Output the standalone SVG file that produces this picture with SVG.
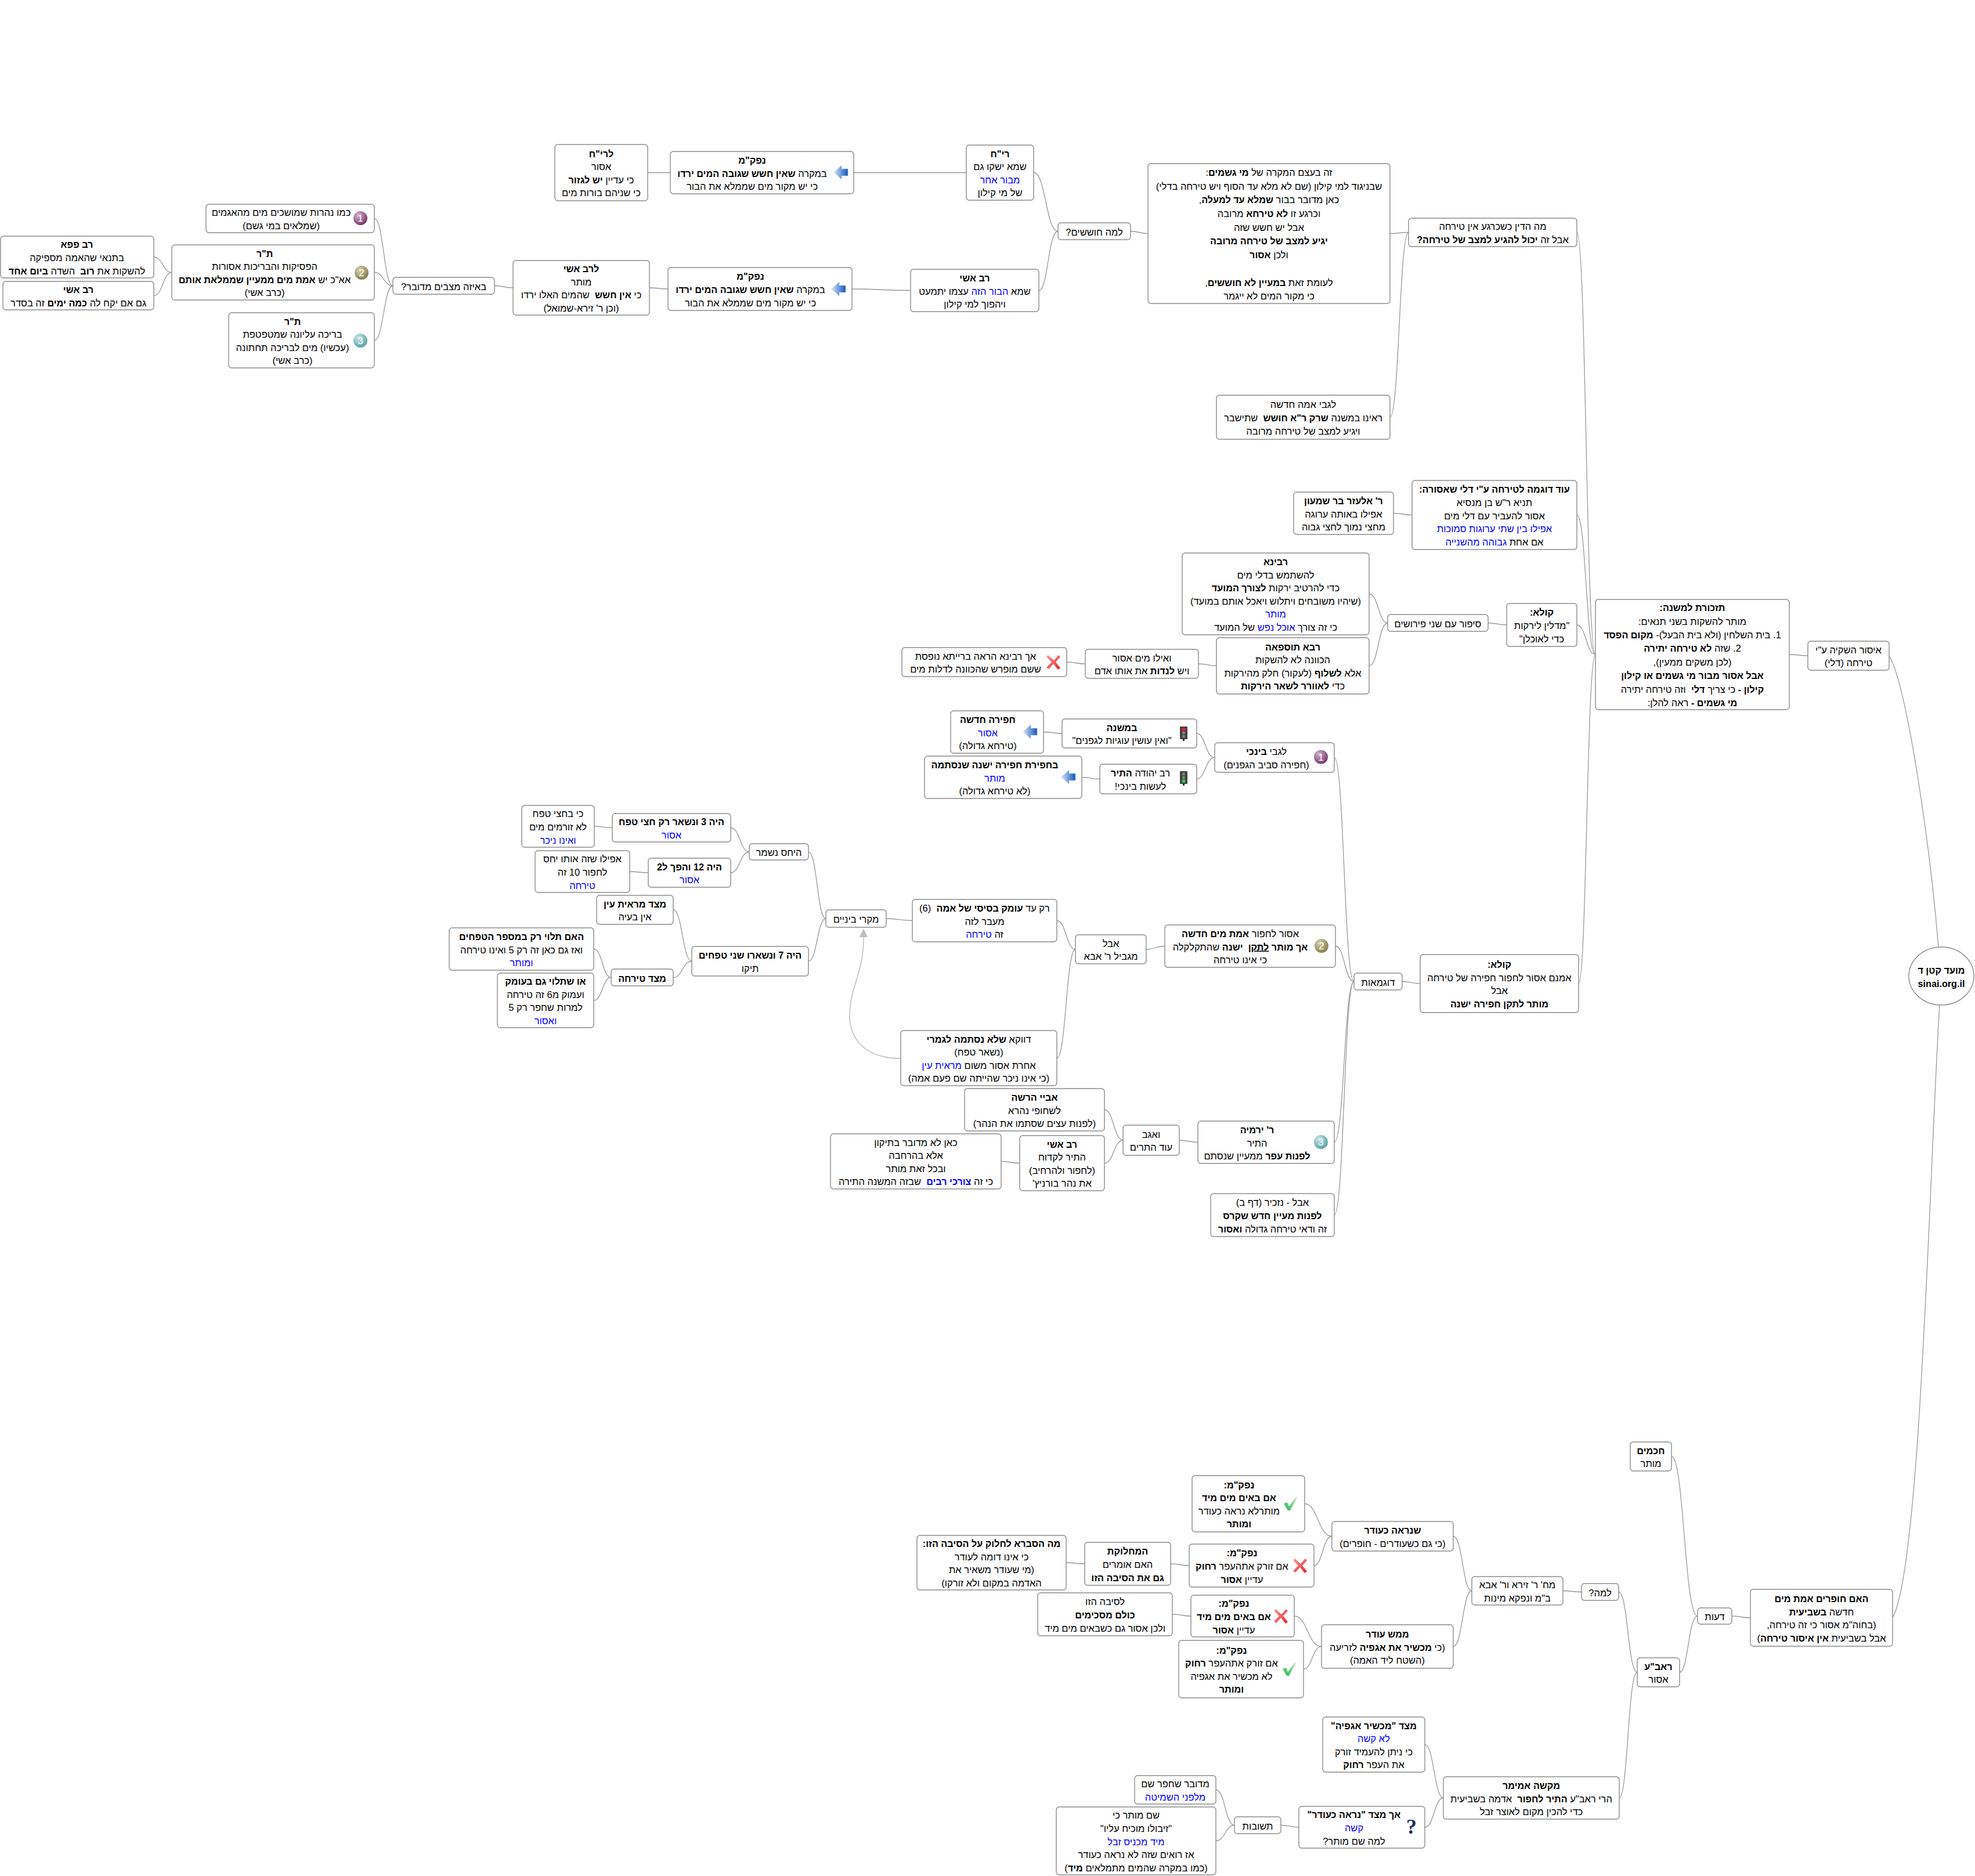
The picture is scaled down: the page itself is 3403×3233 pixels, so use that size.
<svg xmlns="http://www.w3.org/2000/svg" width="3403" height="3233" viewBox="0 0 3403 3233">
<style>
text{font-family:"Liberation Sans",Arial,sans-serif;font-size:16.5px;text-anchor:middle;direction:rtl;white-space:pre;fill:#000}
.b{font-weight:700;font-size:16.2px}
.u{fill:#00f}
.ul{text-decoration:underline}
rect.n{fill:#fff;stroke:#8c8c8c;stroke-width:1.4}
#connectors path{fill:none;stroke:#999;stroke-width:1.3}
#connectors path.rel{stroke:#bdbdbd;stroke-width:1.5}
text.d{font-size:17px;fill:#fff;direction:ltr}
text.q{font-family:"Liberation Serif",serif;font-size:36px;font-weight:700;fill:#1c2a66;direction:ltr}
</style>
<defs>
<radialGradient id="gP" cx=".35" cy=".3" r=".8"><stop offset="0" stop-color="#d6b3cf"/><stop offset="1" stop-color="#6a2a63"/></radialGradient>
<radialGradient id="gO" cx=".35" cy=".3" r=".8"><stop offset="0" stop-color="#d8d3ae"/><stop offset="1" stop-color="#7a7442"/></radialGradient>
<radialGradient id="gT" cx=".35" cy=".3" r=".8"><stop offset="0" stop-color="#c9e6e6"/><stop offset="1" stop-color="#4f9a9c"/></radialGradient>
<linearGradient id="gA" x1="0" y1="0" x2="1" y2="0"><stop offset="0" stop-color="#d4e2f6"/><stop offset="1" stop-color="#1557bb"/></linearGradient>
<linearGradient id="gX" x1="0" y1="0" x2="1" y2="1"><stop offset="0" stop-color="#f5a0a0"/><stop offset="1" stop-color="#ee1c25"/></linearGradient>
<linearGradient id="gC" x1="0" y1="1" x2="1" y2="0"><stop offset="0" stop-color="#22b14c"/><stop offset="1" stop-color="#c8efc8"/></linearGradient>
<marker id="tri" markerWidth="16" markerHeight="16" refX="1" refY="7" orient="auto" markerUnits="userSpaceOnUse"><polygon points="0,0 15,7 0,14" fill="#bdbdbd"/></marker>
<g id="arrowL"><polygon points="0,12 13,0 13,6 24,6 24,18 13,18 13,24" fill="url(#gA)" stroke="#a9c3ea" stroke-width=".6"/></g>
<g id="xmark"><path d="M3,0 L13,9 L21,0 L24,3 L16,12 L24,22 L20,25 L12,15 L4,24 L0,21 L9,12 L0,3 Z" fill="url(#gX)"/></g>
<g id="check"><path d="M0,11 L6,9 L9,16 L21,0 L23,1 L11,23 L7,23 Z" fill="url(#gC)"/></g>
<g id="lightR"><rect x="0" y="0" width="13" height="22" rx="1" fill="#444"/><rect x="5" y="22" width="3" height="3" fill="#333"/><circle cx="6.5" cy="5" r="3" fill="#f01c2c"/><circle cx="6.5" cy="11" r="2.4" fill="#888"/><circle cx="6.5" cy="17" r="2.4" fill="#888"/></g>
<g id="lightG"><rect x="0" y="0" width="13" height="22" rx="1" fill="#444"/><rect x="5" y="22" width="3" height="3" fill="#333"/><circle cx="6.5" cy="5" r="2.4" fill="#888"/><circle cx="6.5" cy="11" r="2.4" fill="#888"/><circle cx="6.5" cy="17" r="3" fill="#22d04c"/></g>
</defs>
<rect width="3403" height="3233" fill="#fff"/>
<g id="connectors">
<path d="M645 376.5C661 376.5 661 492.5 677 492.5"/>
<path d="M645 469.5C661 469.5 661 492.5 677 492.5"/>
<path d="M645 586.5C661 586.5 661 492.5 677 492.5"/>
<path d="M265 443C280.5 443 280.5 469.5 296 469.5"/>
<path d="M265 509.5C280.5 509.5 280.5 469.5 296 469.5"/>
<path d="M852 492.5C868 492.5 868 496 884 496"/>
<path d="M1119 496C1135 496 1135 498 1151 498"/>
<path d="M1468 498C1518 498 1518 500.5 1569 500.5"/>
<path d="M1790 500.5C1806 500.5 1806 398.5 1823 398.5"/>
<path d="M1781 297.5C1802 297.5 1802 398.5 1823 398.5"/>
<path d="M1116 297.5L1155 297.5"/>
<path d="M1471 297.5L1665 297.5"/>
<path d="M1948 398.5C1963 398.5 1963 402.5 1978 402.5"/>
<path d="M2395 402.5C2411 402.5 2411 400.5 2427 400.5"/>
<path d="M2395 719C2411 719 2411 400.5 2427 400.5"/>
<path d="M2717 400.5C2733 400.5 2733 1128 2749 1128"/>
<path d="M2717 887.5C2733 887.5 2733 1128 2749 1128"/>
<path d="M2717 1077C2733 1077 2733 1128 2749 1128"/>
<path d="M2720 1695C2734 1695 2734 1128 2749 1128"/>
<path d="M3083 1128C3099 1128 3099 1130 3115 1130"/>
<path d="M3255 1130C3285 1180 3325 1450 3340 1632"/>
<path d="M3261 2788C3310 2700 3325 2000 3342 1732"/>
<path d="M2401 884.5C2417 884.5 2417 887.5 2433 887.5"/>
<path d="M2564 1073.5C2580 1073.5 2580 1077 2596 1077"/>
<path d="M2359 1023.5C2375 1023.5 2375 1073.5 2391 1073.5"/>
<path d="M2359 1147.5C2375 1147.5 2375 1073.5 2391 1073.5"/>
<path d="M2065 1144C2080 1144 2080 1147.5 2096 1147.5"/>
<path d="M1838 1141C1854 1141 1854 1144 1870 1144"/>
<path d="M2416 1691.5C2431 1691.5 2431 1695 2447 1695"/>
<path d="M2299 1305.5C2316 1305.5 2316 1691.5 2333 1691.5"/>
<path d="M2301 1630.5C2317 1630.5 2317 1691.5 2333 1691.5"/>
<path d="M2299 1968.5C2316 1968.5 2316 1691.5 2333 1691.5"/>
<path d="M2299 2094C2316 2094 2316 1691.5 2333 1691.5"/>
<path d="M2062 1264C2077 1264 2077 1305.5 2093 1305.5"/>
<path d="M2062 1342.5C2077 1342.5 2077 1305.5 2093 1305.5"/>
<path d="M1798 1261.5C1814 1261.5 1814 1264 1830 1264"/>
<path d="M1864 1339.5C1879 1339.5 1879 1342.5 1895 1342.5"/>
<path d="M1975 1636C1991 1636 1991 1630.5 2007 1630.5"/>
<path d="M1821 1586.5C1837 1586.5 1837 1636 1853 1636"/>
<path d="M1821 1823.5C1837 1823.5 1837 1636 1853 1636"/>
<path d="M1527 1583C1549 1583 1549 1586.5 1572 1586.5"/>
<path d="M1393 1468C1408 1468 1408 1583 1423 1583"/>
<path d="M1393 1656.5C1408 1656.5 1408 1583 1423 1583"/>
<path d="M1259 1426.5C1275 1426.5 1275 1468 1291 1468"/>
<path d="M1259 1504C1275 1504 1275 1468 1291 1468"/>
<path d="M1024 1424C1039 1424 1039 1426.5 1055 1426.5"/>
<path d="M1085 1502C1101 1502 1101 1504 1117 1504"/>
<path d="M1160 1568C1176 1568 1176 1656.5 1192 1656.5"/>
<path d="M1160 1684.5C1176 1684.5 1176 1656.5 1192 1656.5"/>
<path d="M1023 1635.5C1038 1635.5 1038 1684.5 1053 1684.5"/>
<path d="M1023 1724C1038 1724 1038 1684.5 1053 1684.5"/>
<path d="M2032 1965C2048 1965 2048 1968.5 2064 1968.5"/>
<path d="M1903 1912.5C1919 1912.5 1919 1965 1935 1965"/>
<path d="M1903 2004.5C1919 2004.5 1919 1965 1935 1965"/>
<path d="M1725 2001.5C1741 2001.5 1741 2004.5 1757 2004.5"/>
<path d="M2984 2785C3000 2785 3000 2788 3016 2788"/>
<path d="M2880 2510C2902 2510 2902 2785 2925 2785"/>
<path d="M2894 2882C2909 2882 2909 2785 2925 2785"/>
<path d="M2789 2743.5C2805 2743.5 2805 2882 2821 2882"/>
<path d="M2790 3098.5C2805 3098.5 2805 2882 2821 2882"/>
<path d="M2693 2741.5C2709 2741.5 2709 2743.5 2725 2743.5"/>
<path d="M2504 2647.5C2520 2647.5 2520 2741.5 2536 2741.5"/>
<path d="M2504 2837.5C2520 2837.5 2520 2741.5 2536 2741.5"/>
<path d="M2248 2591.5C2271 2591.5 2271 2647.5 2295 2647.5"/>
<path d="M2264 2698C2279 2698 2279 2647.5 2295 2647.5"/>
<path d="M2017 2695C2033 2695 2033 2698 2049 2698"/>
<path d="M1837 2693C1853 2693 1853 2695 1869 2695"/>
<path d="M2230 2785C2253 2785 2253 2837.5 2277 2837.5"/>
<path d="M2246 2876.5C2261 2876.5 2261 2837.5 2277 2837.5"/>
<path d="M2020 2782C2036 2782 2036 2785 2052 2785"/>
<path d="M2455 3006.5C2471 3006.5 2471 3098.5 2487 3098.5"/>
<path d="M2455 3149C2471 3149 2471 3098.5 2487 3098.5"/>
<path d="M2207 3145.5C2222 3145.5 2222 3149 2238 3149"/>
<path d="M2095 3084.5C2111 3084.5 2111 3145.5 2127 3145.5"/>
<path d="M2095 3172.5C2111 3172.5 2111 3145.5 2127 3145.5"/>
<path class="rel" d="M1552 1824C1490 1824 1464 1790 1464 1750C1464 1700 1488 1680 1488 1614" marker-end="url(#tri)"/>
</g>
<g id="root"><ellipse cx="3345" cy="1682" rx="56" ry="50" fill="#fff" stroke="#8c8c8c" stroke-width="1.4"/><text class="b" y="1678"><tspan x="3345">מועד קטן ד</tspan><tspan x="3345" dy="22.6" style="direction:ltr">sinai.org.il</tspan></text></g>
<g id="n-issur"><rect class="n" x="3115" y="1105" width="140" height="50" rx="5"/><text y="1125.7"><tspan x="3185">איסור השקיה ע"י</tspan><tspan x="3185" dy="22.6">טירחה (דלי)</tspan></text></g>
<g id="n-tizkoret"><rect class="n" x="2749" y="1033" width="334" height="190" rx="5"/><text y="1053.1"><tspan x="2916" class="b">תזכורת למשנה:</tspan><tspan x="2916" dy="23.4">מותר להשקות בשני תנאים:</tspan><tspan x="2916" dy="23.4">1. בית השלחין (ולא בית הבעל)- <tspan class="b">מקום הפסד</tspan></tspan><tspan x="2916" dy="23.4">2. שזה <tspan class="b">לא טירחה יתירה</tspan></tspan><tspan x="2916" dy="23.4">(לכן משקים ממעין),</tspan><tspan x="2916" dy="23.4" class="b">אבל אסור מבור מי גשמים או קילון</tspan><tspan x="2916" dy="23.4"><tspan class="b">קילון -</tspan> כי צריך <tspan class="b">דלי</tspan>  וזה טירחה יתירה</tspan><tspan x="2916" dy="23.4"><tspan class="b">מי גשמים -</tspan> ראה להלן:</tspan></text></g>
<g id="n-ma-hadin"><rect class="n" x="2427" y="376" width="290" height="49" rx="5"/><text y="396.2"><tspan x="2572">מה הדין כשכרגע אין טירחה</tspan><tspan x="2572" dy="22.6">אבל זה <tspan class="b">יכול להגיע למצב של טירחה?</tspan></tspan></text></g>
<g id="n-ze-beetzem"><rect class="n" x="1978" y="282" width="417" height="241" rx="5"/><text y="302.9"><tspan x="2186.5">זה בעצם המקרה של <tspan class="b">מי גשמים</tspan>:</tspan><tspan x="2186.5" dy="23.7">שבניגוד למי קילון (שם לא מלא עד הסוף ויש טירחה בדלי)</tspan><tspan x="2186.5" dy="23.7">כאן מדובר בבור <tspan class="b">שמלא עד למעלה</tspan>,</tspan><tspan x="2186.5" dy="23.7">וכרגע זו <tspan class="b">לא טירחא</tspan> מרובה</tspan><tspan x="2186.5" dy="23.7">אבל יש חשש שזה</tspan><tspan x="2186.5" dy="23.7" class="b">יגיע למצב של טירחה מרובה</tspan><tspan x="2186.5" dy="23.7">ולכן <tspan class="b">אסור</tspan></tspan><tspan x="2186.5" dy="47.4">לעומת זאת <tspan class="b">במעיין לא חוששים</tspan>,</tspan><tspan x="2186.5" dy="23.7">כי מקור המים לא ייגמר</tspan></text></g>
<g id="n-legabei-ama"><rect class="n" x="2096" y="681" width="299" height="76" rx="5"/><text y="703.4"><tspan x="2245.5">לגבי אמה חדשה</tspan><tspan x="2245.5" dy="22.6">ראינו במשנה <tspan class="b">שרק ר"א חושש</tspan>  שתישבר</tspan><tspan x="2245.5" dy="22.6">ויגיע למצב של טירחה מרובה</tspan></text></g>
<g id="n-lama-choshshim"><rect class="n" x="1823" y="384" width="125" height="29" rx="5"/><text x="1885.5" y="405.5">למה חוששים?</text></g>
<g id="n-rich"><rect class="n" x="1665" y="250" width="116" height="95" rx="5"/><text y="270.6"><tspan x="1723" class="b">רי"ח</tspan><tspan x="1723" dy="22.6">שמא ישקו גם</tspan><tspan x="1723" dy="22.6" class="u">מבור אחר</tspan><tspan x="1723" dy="22.6">של מי קילון</tspan></text></g>
<g id="n-nafkam1"><rect class="n" x="1155" y="261" width="316" height="73" rx="5"/><use href="#arrowL" x="1437" y="285"/><text y="281.9"><tspan x="1296" class="b">נפק"מ</tspan><tspan x="1296" dy="22.6">במקרה <tspan class="b">שאין חשש שגובה המים ירדו</tspan></tspan><tspan x="1296" dy="22.6">כי יש מקור מים שממלא את הבור</tspan></text></g>
<g id="n-lerich"><rect class="n" x="956" y="249" width="160" height="97" rx="5"/><text y="270.6"><tspan x="1036" class="b">לרי"ח</tspan><tspan x="1036" dy="22.6">אסור</tspan><tspan x="1036" dy="22.6">כי עדיין <tspan class="b">יש לגזור</tspan></tspan><tspan x="1036" dy="22.6">כי שניהם בורות מים</tspan></text></g>
<g id="n-rav-ashi1"><rect class="n" x="1569" y="464" width="221" height="73" rx="5"/><text y="484.9"><tspan x="1679.5" class="b">רב אשי</tspan><tspan x="1679.5" dy="22.6">שמא <tspan class="u">הבור הזה</tspan> עצמו יתמעט</tspan><tspan x="1679.5" dy="22.6">ויהפוך למי קילון</tspan></text></g>
<g id="n-nafkam2"><rect class="n" x="1151" y="461" width="317" height="74" rx="5"/><use href="#arrowL" x="1433" y="486"/><text y="482.4"><tspan x="1293" class="b">נפק"מ</tspan><tspan x="1293" dy="22.6">במקרה <tspan class="b">שאין חשש שגובה המים ירדו</tspan></tspan><tspan x="1293" dy="22.6">כי יש מקור מים שממלא את הבור</tspan></text></g>
<g id="n-lerav-ashi"><rect class="n" x="884" y="449" width="235" height="94" rx="5"/><text y="469.1"><tspan x="1001.5" class="b">לרב אשי</tspan><tspan x="1001.5" dy="22.6">מותר</tspan><tspan x="1001.5" dy="22.6">כי <tspan class="b">אין חשש</tspan>  שהמים האלו ירדו</tspan><tspan x="1001.5" dy="22.6">(וכן ר' זירא-שמואל)</tspan></text></g>
<g id="n-beeize"><rect class="n" x="677" y="478" width="175" height="29" rx="5"/><text x="764.5" y="499.5">באיזה מצבים מדובר?</text></g>
<g id="n-a1"><rect class="n" x="355" y="352" width="290" height="49" rx="5"/><circle cx="621" cy="376" r="12" fill="url(#gP)"/><text class="d" x="621" y="382">1</text><text y="372.2"><tspan x="484.5">כמו נהרות שמושכים מים מהאגמים</tspan><tspan x="484.5" dy="22.6">(שמלאים במי גשם)</tspan></text></g>
<g id="n-a2"><rect class="n" x="296" y="422" width="349" height="95" rx="5"/><circle cx="623" cy="470" r="12" fill="url(#gO)"/><text class="d" x="623" y="476">2</text><text y="442.6"><tspan x="456" class="b">ת"ר</tspan><tspan x="456" dy="22.6">הפסיקות והבריכות אסורות</tspan><tspan x="456" dy="22.6">אא"כ יש <tspan class="b">אמת מים ממעיין שממלאת אותם</tspan></tspan><tspan x="456" dy="22.6">(כרב אשי)</tspan></text></g>
<g id="n-a3"><rect class="n" x="394" y="539" width="251" height="95" rx="5"/><circle cx="621" cy="587" r="12" fill="url(#gT)"/><text class="d" x="621" y="593">3</text><text y="559.6"><tspan x="504" class="b">ת"ר</tspan><tspan x="504" dy="22.6">בריכה עליונה שמטפטפת</tspan><tspan x="504" dy="22.6">(עכשיו) מים לבריכה תחתונה</tspan><tspan x="504" dy="22.6">(כרב אשי)</tspan></text></g>
<g id="n-papa"><rect class="n" x="1" y="407" width="264" height="72" rx="5"/><text y="427.4"><tspan x="132.5" class="b">רב פפא</tspan><tspan x="132.5" dy="22.6">בתנאי שהאמה מספיקה</tspan><tspan x="132.5" dy="22.6">להשקות את <tspan class="b">רוב</tspan>  השדה <tspan class="b">ביום אחד</tspan></tspan></text></g>
<g id="n-ashi2"><rect class="n" x="5" y="485" width="260" height="49" rx="5"/><text y="505.2"><tspan x="135" class="b">רב אשי</tspan><tspan x="135" dy="22.6">גם אם יקח לה <tspan class="b">כמה ימים</tspan> זה בסדר</tspan></text></g>
<g id="n-od"><rect class="n" x="2433" y="828" width="284" height="119" rx="5"/><text y="849.3"><tspan x="2575" class="b">עוד דוגמה לטירחה ע"י דלי שאסורה:</tspan><tspan x="2575" dy="22.6">תניא ר"ש בן מנסיא</tspan><tspan x="2575" dy="22.6">אסור להעביר עם דלי מים</tspan><tspan x="2575" dy="22.6" class="u">אפילו בין שתי ערוגות סמוכות</tspan><tspan x="2575" dy="22.6">אם אחת <tspan class="u">גבוהה מהשנייה</tspan></tspan></text></g>
<g id="n-elazar"><rect class="n" x="2229" y="848" width="172" height="73" rx="5"/><text y="868.9"><tspan x="2315" class="b">ר' אלעזר בר שמעון</tspan><tspan x="2315" dy="22.6">אפילו באותה ערוגה</tspan><tspan x="2315" dy="22.6">מחצי נמוך לחצי גבוה</tspan></text></g>
<g id="n-kula1"><rect class="n" x="2596" y="1040" width="121" height="74" rx="5"/><text y="1061.4"><tspan x="2656.5" class="b">קולא:</tspan><tspan x="2656.5" dy="22.6">"מדלין לירקות</tspan><tspan x="2656.5" dy="22.6">כדי לאוכלן"</tspan></text></g>
<g id="n-sipur"><rect class="n" x="2391" y="1059" width="173" height="29" rx="5"/><text x="2477.5" y="1080.5">סיפור עם שני פירושים</text></g>
<g id="n-ravina"><rect class="n" x="2037" y="953" width="322" height="141" rx="5"/><text y="974"><tspan x="2198" class="b">רבינא</tspan><tspan x="2198" dy="22.6">להשתמש בדלי מים</tspan><tspan x="2198" dy="22.6">כדי להרטיב ירקות <tspan class="b">לצורך המועד</tspan></tspan><tspan x="2198" dy="22.6">(שיהיו משובחים ויתלוש ויאכל אותם במועד)</tspan><tspan x="2198" dy="22.6" class="u">מותר</tspan><tspan x="2198" dy="22.6">כי זה צורך <tspan class="u">אוכל נפש</tspan> של המועד</tspan></text></g>
<g id="n-rava"><rect class="n" x="2096" y="1099" width="263" height="97" rx="5"/><text y="1120.6"><tspan x="2227.5" class="b">רבא תוספאה</tspan><tspan x="2227.5" dy="22.6">הכוונה לא להשקות</tspan><tspan x="2227.5" dy="22.6">אלא <tspan class="b">לשלוף</tspan> (לעקור) חלק מהירקות</tspan><tspan x="2227.5" dy="22.6">כדי <tspan class="b">לאוורר לשאר הירקות</tspan></tspan></text></g>
<g id="n-veilu"><rect class="n" x="1870" y="1119" width="195" height="50" rx="5"/><text y="1139.7"><tspan x="1967.5">ואילו מים אסור</tspan><tspan x="1967.5" dy="22.6">ויש <tspan class="b">לנדות</tspan> את אותו אדם</tspan></text></g>
<g id="n-ach-ravina"><rect class="n" x="1554" y="1116" width="284" height="50" rx="5"/><use href="#xmark" x="1803" y="1129"/><text y="1136.7"><tspan x="1681">אך רבינא הראה ברייתא נופסת</tspan><tspan x="1681" dy="22.6">ששם מופרש שהכוונה לדלות מים</tspan></text></g>
<g id="n-binchi"><rect class="n" x="2093" y="1280" width="206" height="51" rx="5"/><circle cx="2276" cy="1304.5" r="12" fill="url(#gP)"/><text class="d" x="2276" y="1310.5">1</text><text y="1301.2"><tspan x="2182">לגבי <tspan class="b">בינכי</tspan></tspan><tspan x="2182" dy="22.6">(חפירה סביב הגפנים)</tspan></text></g>
<g id="n-mishna"><rect class="n" x="1830" y="1239" width="232" height="50" rx="5"/><use href="#lightR" x="2033" y="1252"/><text y="1259.7"><tspan x="1933" class="b">במשנה</tspan><tspan x="1933" dy="22.6">"ואין עושין עוגיות לגפנים"</tspan></text></g>
<g id="n-chafira-chadasha"><rect class="n" x="1638" y="1225" width="160" height="73" rx="5"/><use href="#arrowL" x="1763" y="1249"/><text y="1245.9"><tspan x="1702" class="b">חפירה חדשה</tspan><tspan x="1702" dy="22.6" class="u">אסור</tspan><tspan x="1702" dy="22.6">(טירחא גדולה)</tspan></text></g>
<g id="n-rav-yehuda"><rect class="n" x="1895" y="1317" width="167" height="51" rx="5"/><use href="#lightG" x="2033" y="1329"/><text y="1338.2"><tspan x="1965">רב יהודה <tspan class="b">התיר</tspan></tspan><tspan x="1965" dy="22.6">לעשות בינכי!</tspan></text></g>
<g id="n-bachafirat"><rect class="n" x="1593" y="1303" width="271" height="73" rx="5"/><use href="#arrowL" x="1829" y="1327"/><text y="1323.9"><tspan x="1714" class="b">בחפירת חפירה ישנה שנסתמה</tspan><tspan x="1714" dy="22.6" class="u">מותר</tspan><tspan x="1714" dy="22.6">(לא טירחא גדולה)</tspan></text></g>
<g id="n-kula2"><rect class="n" x="2447" y="1645" width="273" height="100" rx="5"/><text y="1668.1"><tspan x="2583.5" class="b">קולא:</tspan><tspan x="2583.5" dy="22.6">אמנם אסור לחפור חפירה של טירחה</tspan><tspan x="2583.5" dy="22.6">אבל</tspan><tspan x="2583.5" dy="22.6" class="b">מותר לתקן חפירה ישנה</tspan></text></g>
<g id="n-dugmaot"><rect class="n" x="2333" y="1677" width="83" height="29" rx="5"/><text x="2374.5" y="1698.5">דוגמאות</text></g>
<g id="n-asur-lachpor"><rect class="n" x="2007" y="1594" width="294" height="73" rx="5"/><circle cx="2277" cy="1630" r="12" fill="url(#gO)"/><text class="d" x="2277" y="1636">2</text><text y="1614.9"><tspan x="2137">אסור לחפור <tspan class="b">אמת מים חדשה</tspan></tspan><tspan x="2137" dy="22.6"><tspan class="b">אך מותר <tspan class="ul">לתקן</tspan>  ישנה</tspan> שהתקלקלה</tspan><tspan x="2137" dy="22.6">כי אינו טירחה</tspan></text></g>
<g id="n-aval-magbil"><rect class="n" x="1853" y="1611" width="122" height="50" rx="5"/><text y="1631.7"><tspan x="1914">אבל</tspan><tspan x="1914" dy="22.6">מגביל ר' אבא</tspan></text></g>
<g id="n-rak-ad"><rect class="n" x="1572" y="1550" width="249" height="73" rx="5"/><text y="1570.9"><tspan x="1696.5">רק עד <tspan class="b">עומק בסיסי של אמה</tspan>  (6)</tspan><tspan x="1696.5" dy="22.6">מעבר לזה</tspan><tspan x="1696.5" dy="22.6">זה <tspan class="u">טירחה</tspan></tspan></text></g>
<g id="n-davka"><rect class="n" x="1552" y="1776" width="269" height="95" rx="5"/><text y="1796.6"><tspan x="1686.5">דווקא <tspan class="b">שלא נסתמה לגמרי</tspan></tspan><tspan x="1686.5" dy="22.6">(נשאר טפח)</tspan><tspan x="1686.5" dy="22.6">אחרת אסור משום <tspan class="u">מראית עין</tspan></tspan><tspan x="1686.5" dy="22.6">(כי אינו ניכר שהייתה שם פעם אמה)</tspan></text></g>
<g id="n-mikrei"><rect class="n" x="1423" y="1568" width="104" height="30" rx="5"/><text x="1475" y="1590">מקרי ביניים</text></g>
<g id="n-yachas"><rect class="n" x="1291" y="1454" width="102" height="28" rx="5"/><text x="1342" y="1475">היחס נשמר</text></g>
<g id="n-haya3"><rect class="n" x="1055" y="1402" width="204" height="49" rx="5"/><text y="1422.2"><tspan x="1157" class="b">היה 3 ונשאר רק חצי טפח</tspan><tspan x="1157" dy="22.6" class="u">אסור</tspan></text></g>
<g id="n-ki-bachatzi"><rect class="n" x="899" y="1388" width="125" height="72" rx="5"/><text y="1408.4"><tspan x="961.5">כי בחצי טפח</tspan><tspan x="961.5" dy="22.6">לא זורמים מים</tspan><tspan x="961.5" dy="22.6" class="u">ואינו ניכר</tspan></text></g>
<g id="n-haya12"><rect class="n" x="1117" y="1479" width="142" height="50" rx="5"/><text y="1499.7"><tspan x="1188" class="b">היה 12 והפך ל2</tspan><tspan x="1188" dy="22.6" class="u">אסור</tspan></text></g>
<g id="n-afilu"><rect class="n" x="922" y="1466" width="163" height="72" rx="5"/><text y="1486.4"><tspan x="1003.5">אפילו שזה אותו יחס</tspan><tspan x="1003.5" dy="22.6">לחפור 10 זה</tspan><tspan x="1003.5" dy="22.6" class="u">טירחה</tspan></text></g>
<g id="n-haya7"><rect class="n" x="1192" y="1631" width="201" height="51" rx="5"/><text y="1652.2"><tspan x="1292.5" class="b">היה 7 ונשארו שני טפחים</tspan><tspan x="1292.5" dy="22.6">תיקו</tspan></text></g>
<g id="n-marit"><rect class="n" x="1028" y="1543" width="132" height="50" rx="5"/><text y="1563.7"><tspan x="1094" class="b">מצד מראית עין</tspan><tspan x="1094" dy="22.6">אין בעיה</tspan></text></g>
<g id="n-tircha"><rect class="n" x="1053" y="1670" width="107" height="29" rx="5"/><text class="b" x="1106.5" y="1691.5">מצד טירחה</text></g>
<g id="n-talui"><rect class="n" x="774" y="1599" width="249" height="73" rx="5"/><text y="1619.9"><tspan x="898.5" class="b">האם תלוי רק במספר הטפחים</tspan><tspan x="898.5" dy="22.6">ואז גם כאן זה רק 5 ואינו טירחה</tspan><tspan x="898.5" dy="22.6" class="u">ומותר</tspan></text></g>
<g id="n-o-shetalui"><rect class="n" x="857" y="1677" width="166" height="94" rx="5"/><text y="1697.1"><tspan x="940" class="b">או שתלוי גם בעומק</tspan><tspan x="940" dy="22.6">ועמוק מ6 זה טירחה</tspan><tspan x="940" dy="22.6">למרות שחפר רק 5</tspan><tspan x="940" dy="22.6" class="u">ואסור</tspan></text></g>
<g id="n-yirmiya"><rect class="n" x="2064" y="1932" width="235" height="73" rx="5"/><circle cx="2276" cy="1968" r="12" fill="url(#gT)"/><text class="d" x="2276" y="1974">3</text><text y="1952.9"><tspan x="2166" class="b">ר' ירמיה</tspan><tspan x="2166" dy="22.6">התיר</tspan><tspan x="2166" dy="22.6"><tspan class="b">לפנות עפר</tspan> ממעיין שנסתם</tspan></text></g>
<g id="n-veagav"><rect class="n" x="1935" y="1939" width="97" height="52" rx="5"/><text y="1960.7"><tspan x="1983.5">ואגב</tspan><tspan x="1983.5" dy="22.6">עוד התרים</tspan></text></g>
<g id="n-abaye"><rect class="n" x="1662" y="1876" width="241" height="73" rx="5"/><text y="1896.9"><tspan x="1782.5" class="b">אביי הרשה</tspan><tspan x="1782.5" dy="22.6">לשחופי נהרא</tspan><tspan x="1782.5" dy="22.6">(לפנות עצים שסתמו את הנהר)</tspan></text></g>
<g id="n-ashi3"><rect class="n" x="1757" y="1957" width="146" height="95" rx="5"/><text y="1977.6"><tspan x="1830" class="b">רב אשי</tspan><tspan x="1830" dy="22.6">התיר לקדוח</tspan><tspan x="1830" dy="22.6">(לחפור ולהרחיב)</tspan><tspan x="1830" dy="22.6">את נהר בורניץ'</tspan></text></g>
<g id="n-kan-lo"><rect class="n" x="1431" y="1954" width="294" height="95" rx="5"/><text y="1974.6"><tspan x="1578">כאן לא מדובר בתיקון</tspan><tspan x="1578" dy="22.6">אלא בהרחבה</tspan><tspan x="1578" dy="22.6">ובכל זאת מותר</tspan><tspan x="1578" dy="22.6">כי זה <tspan class="u b">צורכי רבים</tspan>  שבזה המשנה התירה</tspan></text></g>
<g id="n-nazkir"><rect class="n" x="2086" y="2057" width="213" height="74" rx="5"/><text y="2078.4"><tspan x="2192.5">אבל - נזכיר (דף ב)</tspan><tspan x="2192.5" dy="22.6" class="b">לפנות מעיין חדש שקרס</tspan><tspan x="2192.5" dy="22.6">זה ודאי טירחה גדולה <tspan class="b">ואסור</tspan></tspan></text></g>
<g id="n-chofrim"><rect class="n" x="3016" y="2739" width="245" height="98" rx="5"/><text y="2761.1"><tspan x="3138.5" class="b">האם חופרים אמת מים</tspan><tspan x="3138.5" dy="22.6">חדשה <tspan class="b">בשביעית</tspan></tspan><tspan x="3138.5" dy="22.6">(בחוה"מ אסור כי זה טירחה,</tspan><tspan x="3138.5" dy="22.6">אבל בשביעית <tspan class="b">אין איסור טירחה</tspan>)</tspan></text></g>
<g id="n-deot"><rect class="n" x="2925" y="2771" width="59" height="28" rx="5"/><text x="2954.5" y="2792">דעות</text></g>
<g id="n-chachamim"><rect class="n" x="2809" y="2485" width="71" height="50" rx="5"/><text y="2505.7"><tspan x="2844.5" class="b">חכמים</tspan><tspan x="2844.5" dy="22.6">מותר</tspan></text></g>
<g id="n-raava"><rect class="n" x="2821" y="2857" width="73" height="50" rx="5"/><text y="2877.7"><tspan x="2857.5" class="b">ראב"ע</tspan><tspan x="2857.5" dy="22.6">אסור</tspan></text></g>
<g id="n-lama"><rect class="n" x="2725" y="2729" width="64" height="29" rx="5"/><text x="2757" y="2750.5">למה?</text></g>
<g id="n-machloket"><rect class="n" x="2536" y="2717" width="157" height="49" rx="5"/><text y="2737.2"><tspan x="2614.5">מח' ר' זירא ור' אבא</tspan><tspan x="2614.5" dy="22.6">ב"מ ונפקא מינות</tspan></text></g>
<g id="n-shenire"><rect class="n" x="2295" y="2622" width="209" height="51" rx="5"/><text y="2643.2"><tspan x="2399.5" class="b">שנראה כעודר</tspan><tspan x="2399.5" dy="22.6">(כי גם כשעודרים - חופרים)</tspan></text></g>
<g id="n-mamash"><rect class="n" x="2277" y="2800" width="227" height="75" rx="5"/><text y="2821.9"><tspan x="2390.5" class="b">ממש עודר</tspan><tspan x="2390.5" dy="22.6">(כי <tspan class="b">מכשיר את אגפיה</tspan> לזריעה</tspan><tspan x="2390.5" dy="22.6">(השטח ליד האמה)</tspan></text></g>
<g id="n-nf1"><rect class="n" x="2054" y="2543" width="194" height="97" rx="5"/><use href="#check" x="2212" y="2580"/><text y="2564.6"><tspan x="2135" class="b">נפק"מ:</tspan><tspan x="2135" dy="22.6" class="b">אם באים מים מיד</tspan><tspan x="2135" dy="22.6">מותרלא נראה כעודר</tspan><tspan x="2135" dy="22.6" class="b">ומותר</tspan></text></g>
<g id="n-nf2"><rect class="n" x="2049" y="2661" width="215" height="74" rx="5"/><use href="#xmark" x="2228" y="2686"/><text y="2682.4"><tspan x="2140" class="b">נפק"מ:</tspan><tspan x="2140" dy="22.6">אם זורק אתהעפר <tspan class="b">רחוק</tspan></tspan><tspan x="2140" dy="22.6">עדיין <tspan class="b">אסור</tspan></tspan></text></g>
<g id="n-hamachloket"><rect class="n" x="1869" y="2658" width="148" height="74" rx="5"/><text y="2679.4"><tspan x="1943" class="b">המחלוקת</tspan><tspan x="1943" dy="22.6">האם אומרים</tspan><tspan x="1943" dy="22.6" class="b">גם את הסיבה הזו</tspan></text></g>
<g id="n-sevara"><rect class="n" x="1580" y="2646" width="257" height="94" rx="5"/><text y="2666.1"><tspan x="1708.5" class="b">מה הסברא לחלוק על הסיבה הזו:</tspan><tspan x="1708.5" dy="22.6">כי אינו דומה לעודר</tspan><tspan x="1708.5" dy="22.6">(מי שעודר משאיר את</tspan><tspan x="1708.5" dy="22.6">האדמה במקום ולא זורקו)</tspan></text></g>
<g id="n-nf3"><rect class="n" x="2052" y="2749" width="178" height="72" rx="5"/><use href="#xmark" x="2195" y="2773"/><text y="2769.4"><tspan x="2126" class="b">נפק"מ:</tspan><tspan x="2126" dy="22.6" class="b">אם באים מים מיד</tspan><tspan x="2126" dy="22.6">עדיין <tspan class="b">אסור</tspan></tspan></text></g>
<g id="n-lesiba"><rect class="n" x="1788" y="2745" width="232" height="74" rx="5"/><text y="2766.4"><tspan x="1904">לסיבה הזו</tspan><tspan x="1904" dy="22.6" class="b">כולם מסכימים</tspan><tspan x="1904" dy="22.6">ולכן אסור גם כשבאים מים מיד</tspan></text></g>
<g id="n-nf4"><rect class="n" x="2031" y="2827" width="215" height="99" rx="5"/><use href="#check" x="2210" y="2865"/><text y="2849.6"><tspan x="2122" class="b">נפק"מ:</tspan><tspan x="2122" dy="22.6">אם זורק אתהעפר <tspan class="b">רחוק</tspan></tspan><tspan x="2122" dy="22.6">לא מכשיר את אגפיה</tspan><tspan x="2122" dy="22.6" class="b">ומותר</tspan></text></g>
<g id="n-makshe"><rect class="n" x="2487" y="3062" width="303" height="73" rx="5"/><text y="3082.9"><tspan x="2638.5" class="b">מקשה אמימר</tspan><tspan x="2638.5" dy="22.6">הרי ראב"ע <tspan class="b">התיר לחפור</tspan>  אדמה בשביעית</tspan><tspan x="2638.5" dy="22.6">כדי להכין מקום לאוצר זבל</tspan></text></g>
<g id="n-machshir"><rect class="n" x="2279" y="2959" width="176" height="95" rx="5"/><text y="2979.6"><tspan x="2367" class="b">מצד "מכשיר אגפיה"</tspan><tspan x="2367" dy="22.6" class="u">לא קשה</tspan><tspan x="2367" dy="22.6">כי ניתן להעמיד זורק</tspan><tspan x="2367" dy="22.6">את העפר <tspan class="b">רחוק</tspan></tspan></text></g>
<g id="n-ach-mitzad"><rect class="n" x="2238" y="3113" width="217" height="72" rx="5"/><text class="q" x="2432" y="3160">?</text><text y="3133.4"><tspan x="2333" class="b">אך מצד "נראה כעודר"</tspan><tspan x="2333" dy="22.6" class="u">קשה</tspan><tspan x="2333" dy="22.6">למה שם מותר?</tspan></text></g>
<g id="n-teshuvot"><rect class="n" x="2127" y="3131" width="80" height="29" rx="5"/><text x="2167" y="3152.5">תשובות</text></g>
<g id="n-medubar"><rect class="n" x="1955" y="3060" width="140" height="49" rx="5"/><text y="3080.2"><tspan x="2025">מדובר שחפר שם</tspan><tspan x="2025" dy="22.6" class="u">מלפני השמיטה</tspan></text></g>
<g id="n-sham"><rect class="n" x="1820" y="3114" width="275" height="117" rx="5"/><text y="3134.3"><tspan x="1957.5">שם מותר כי</tspan><tspan x="1957.5" dy="22.6">"זיבולו מוכיח עליו"</tspan><tspan x="1957.5" dy="22.6" class="u">מיד מכניס זבל</tspan><tspan x="1957.5" dy="22.6">אז רואים שזה לא נראה כעודר</tspan><tspan x="1957.5" dy="22.6">(כמו במקרה שהמים מתמלאים <tspan class="b">מיד</tspan>)</tspan></text></g>
</svg>
